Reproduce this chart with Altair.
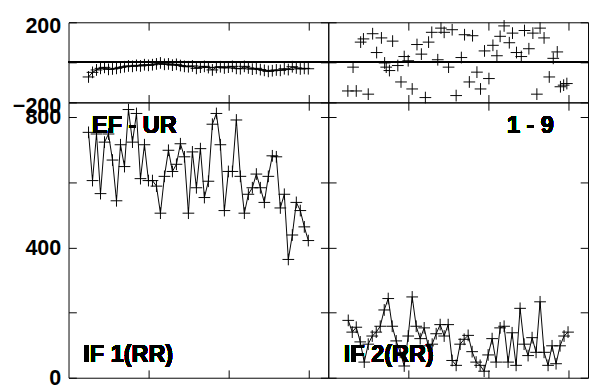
import altair as alt
import pandas as pd

# ---------------- data ----------------
x_idx = list(range(5, 61))

ef_ur = [-73, -50, -38, -30, -25, -35, -33, -30, -25, -22,
         -18, -20, -15, -18, -12, -15, -12, -8, -3, -10,
         -8, -14, -10, -16, -20, -22, -18, -30, -24, -20,
         -26, -38, -25, -22, -28, -24, -20, -30, -32, -20,
         -28, -34, -30, -36, -40, -45, -42, -38, -40, -32,
         -36, -22, -28, -33, -30, -32]

if1 = [753, 605, 748, 565, 723, 748, 668, 543, 715, 648,
       823, 723, 811, 611, 715, 605, 605, 588, 505, 618,
       698, 633, 655, 718, 678, 505, 693, 583, 703, 553,
       603, 778, 811, 715, 513, 633, 633, 791, 618, 505,
       563, 583, 625, 583, 538, 618, 681, 678, 521, 563,
       363, 438, 538, 513, 463, 421]

if2 = [176, 140, 155, 110, 48, 103, 128, 140, 158, 208,
       243, 158, 113, 78, 36, 128, 248, 158, 120, 153,
       98, 103, 135, 163, 128, 163, 53, 38, 103, 118,
       130, 80, 48, 38, 20, 70, 120, 48, 153, 158,
       48, 138, 38, 213, 103, 68, 123, 78, 233, 78,
       38, 98, 43, 98, 128, 140]

s19_x = [6.2, 4.9, 7.0, 10.0, 8.1, 8.8, 11.1, 13.3, 16.1, 12.1,
         14.1, 14.5, 15.3, 17.4, 18.2, 19.0, 20.0, 21.0, 22.2, 23.3,
         24.3, 25.1, 25.9, 27.4, 28.2, 29.0, 30.1, 31.0, 32.0, 33.3,
         34.1, 36.1, 35.3, 37.2, 38.1, 40.2, 39.1, 41.2, 42.2, 43.0,
         44.0, 45.3, 46.1, 47.1, 48.3, 49.1, 50.2, 51.2, 52.2, 53.0,
         54.0, 55.3, 56.3, 57.3, 58.1, 58.9, 59.7]
s19_y = [-24, -143, -143, -159, 101, 117, 143, 122, 106, 49,
         -3, -24, -41, -16, -98, 29, 8, -133, 89, 41,
         -176, 101, 150, 13, 171, 150, -24, 163, -166, 24,
         138, 133, -98, -49, -133, -81, 57, 85, 33, 130,
         182, 98, 146, 49, 29, 159, 68, 146, -159, 171,
         122, -73, 20, 52, -122, -114, -106]

X_DOMAIN = [0, 65]
X_TICKS = [20, 40, 60]
TOP_DOMAIN = [-200, 200]
TOP_TICKS = [-200, 0, 200]
TOP_LABELS = [-200, 200]
BOT_DOMAIN = [0, 845]
BOT_TICKS = [0, 200, 400, 600, 800]
BOT_LABELS = [0, 400, 800]

W = 266
H_TOP = 82
H_BOT = 282
FONT = "Liberation Sans"
CROSS = "M -1 0 L 1 0 M 0 -1 L 0 1"


def tick_axis(orient, offset, values):
    return alt.Axis(orient=orient, offset=offset, values=values, labels=False,
                    domain=False, ticks=True, tickSize=8, tickColor="black",
                    tickWidth=1, grid=False, title=None)


def label_axis(values, loff):
    return alt.Axis(orient="left", values=values, labels=True, ticks=False,
                    tickSize=0, domain=False, grid=False, title=None,
                    labelFont=FONT, labelFontSize=22, labelFontWeight="bold",
                    labelColor="black", labelPadding=8, labelFlush=False,
                    labelOverlap=False, labelOffset=loff)


def panel(df, h, ydom, yticks, ylabels, show_line, zero_line, texts, loff=0):
    xs = alt.Scale(domain=X_DOMAIN, nice=False, zero=False)
    ys = alt.Scale(domain=ydom, nice=False, zero=False)
    base = alt.Chart(df)
    lab = label_axis(ylabels, loff) if ylabels else None
    if show_line:
        l1 = base.mark_line(color="black", strokeWidth=1)
    else:
        l1 = base.mark_point(opacity=0)
    l1 = l1.encode(
        x=alt.X("x:Q", scale=xs, axis=tick_axis("bottom", -h, X_TICKS)),
        y=alt.Y("y:Q", scale=ys, axis=lab),
    )
    l2 = base.mark_point(shape=CROSS, filled=False, size=144, color="black",
                         strokeWidth=1, opacity=1).encode(
        x=alt.X("x:Q", scale=xs, axis=tick_axis("top", -h, X_TICKS)),
        y=alt.Y("y:Q", scale=ys, axis=tick_axis("right", -W, yticks)),
    )
    l3 = base.mark_point(opacity=0).encode(
        x=alt.X("x:Q", scale=xs, axis=None),
        y=alt.Y("y:Q", scale=ys, axis=tick_axis("left", -W, yticks)),
    )
    layers = []
    if zero_line:
        layers.append(alt.Chart(df).mark_rule(color="black", strokeWidth=1).encode(
            y=alt.YDatum(0, scale=ys, axis=None)))
    for (tx, ty, txt) in texts:
        layers.append(alt.Chart(df).mark_text(
            text=txt, align="left", baseline="middle", font=FONT, fontSize=24,
            fontWeight="bold", color="black").encode(
            x=alt.XDatum(tx, scale=xs, axis=None),
            y=alt.YDatum(ty, scale=ys, axis=None)))
    layers += [l1, l2, l3]
    return alt.layer(*layers).resolve_axis(x="independent", y="independent").properties(
        width=W, height=h)


df_tl = pd.DataFrame({"x": x_idx, "y": ef_ur})
df_tr = pd.DataFrame({"x": s19_x, "y": s19_y})
df_bl = pd.DataFrame({"x": x_idx, "y": if1})
df_br = pd.DataFrame({"x": x_idx, "y": if2})

tl = panel(df_tl, H_TOP, TOP_DOMAIN, TOP_TICKS, TOP_LABELS, True, True, [], loff=3)
tr = panel(df_tr, H_TOP, TOP_DOMAIN, TOP_TICKS, None, False, True, [])
bl = panel(df_bl, H_BOT, BOT_DOMAIN, BOT_TICKS, BOT_LABELS, True, False,
           [(5.9, 773, "EF - UR"), (3.7, 69, "IF 1(RR)")])
br = panel(df_br, H_BOT, BOT_DOMAIN, BOT_TICKS, None, True, False,
           [(44.7, 773, "1 - 9"), (3.9, 69, "IF 2(RR)")])

chart = alt.concat(tl, tr, bl, br, columns=2, spacing=0, bounds="flush").properties(
    padding={"left": 3, "top": 1, "right": 0, "bottom": 0},
    background="white",
).configure_view(stroke="black", strokeWidth=1)

chart.save("out.html", embed_options={"renderer": "svg", "actions": False})
